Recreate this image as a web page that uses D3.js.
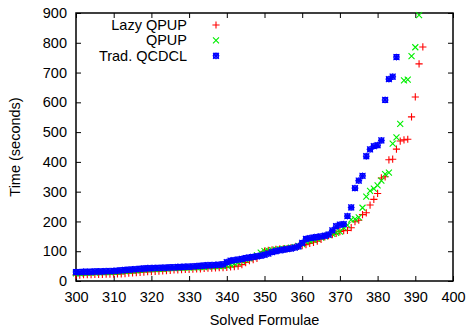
<!DOCTYPE html>
<html>
<head>
<meta charset="utf-8">
<script src="https://cdn.jsdelivr.net/npm/d3@7"></script>
<style>
    body { margin: 0; background: #fff; }
    text { font-family: "Liberation Sans", Arial, sans-serif; font-size: 14.5px; fill: #000; }
    .axis path { display: none; }
    .axis line { stroke: #000; stroke-width: 1; }
</style>
</head>
<body>
<svg id="chart" width="470" height="327"></svg>
<script>
// solved formulae (x) starts at 300 for every series
const xStart = 300;
const xTicks = [300, 310, 320, 330, 340, 350, 360, 370, 380, 390, 400];
const yTicks = [0, 100, 200, 300, 400, 500, 600, 700, 800, 900];
const seriesNames = ['Lazy QPUP', 'QPUP', 'Trad. QCDCL'];

// time (seconds) per solved formula
const lazyQpup = [
    20, 20, 21, 21, 21, 22, 22, 22, 23, 23,
    23, 24, 24, 25, 26, 27, 28, 29, 30, 31,
    31, 32, 33, 34, 35, 36, 37, 37, 38, 39,
    39, 40, 41, 41, 42, 43, 43, 44, 45, 45,
    46, 47, 48, 50, 55, 62, 68, 72, 76, 88,
    100, 103, 105, 106, 107, 108, 109, 111, 113, 116,
    119, 122, 126, 130, 134, 140, 148, 152, 156, 160,
    166, 169, 170, 179, 199, 204, 223, 229, 255, 274,
    294, 346, 350, 407, 409, 443, 470, 474, 476, 551, 618, 729, 786
];
const qpup = [
    26, 26, 27, 27, 28, 28, 29, 29, 30, 30,
    31, 31, 32, 33, 34, 35, 36, 37, 38, 39,
    40, 40, 41, 41, 42, 43, 43, 44, 44, 45,
    45, 46, 46, 47, 47, 48, 49, 49, 50, 51,
    52, 54, 58, 63, 68, 72, 76, 80, 86, 95,
    100, 102, 104, 105, 107, 108, 110, 112, 114, 118,
    124, 132, 135, 138, 142, 146, 150, 154, 158, 162,
    166, 179, 188, 206, 208, 214, 246, 283, 303, 310,
    321, 337, 359, 364, 461, 482, 528, 674, 676, 755, 785, 893
];
const tradQcdcl = [
    30, 30, 31, 31, 31, 32, 32, 32, 33, 33,
    34, 35, 36, 37, 38, 39, 40, 41, 42, 43,
    43, 44, 44, 45, 45, 46, 46, 47, 47, 48,
    48, 49, 50, 51, 52, 53, 53, 54, 55, 56,
    63, 68, 70, 72, 74, 77, 79, 81, 83, 85,
    88, 92, 97, 100, 103, 105, 107, 109, 112, 116,
    128, 141, 144, 146, 148, 150, 152, 156, 170, 184,
    189, 191, 218, 247, 312, 337, 353, 419, 442, 453,
    456, 472, 608, 678, 686, 752
];

const margin = { top: 13, right: 17, bottom: 46, left: 76 };
const svg = d3.select('#chart');
const width = +svg.attr('width') - margin.left - margin.right;
const height = +svg.attr('height') - margin.top - margin.bottom;

const x = d3.scaleLinear().domain([300, 400]).range([0, width]);
const y = d3.scaleLinear().domain([0, 900]).range([height, 0]);

const g = svg.append('g')
    .attr('transform', `translate(${margin.left}, ${margin.top})`);

// axes, ticks point inward like gnuplot, mirrored on top/right
g.append('g').attr('class', 'axis')
    .attr('transform', `translate(0, ${height})`)
    .call(d3.axisBottom(x).tickValues(xTicks).tickSizeInner(-5).tickSizeOuter(0).tickPadding(11));
g.append('g').attr('class', 'axis')
    .call(d3.axisTop(x).tickValues(xTicks).tickSizeInner(-5).tickSizeOuter(0).tickFormat(''));
g.append('g').attr('class', 'axis')
    .call(d3.axisLeft(y).tickValues(yTicks).tickSizeInner(-5).tickSizeOuter(0).tickPadding(9));
g.append('g').attr('class', 'axis')
    .attr('transform', `translate(${width}, 0)`)
    .call(d3.axisRight(y).tickValues(yTicks).tickSizeInner(-5).tickSizeOuter(0).tickFormat(''));

g.selectAll('.axis text').style('font-size', '14.5px').style('font-family', '"Liberation Sans", Arial, sans-serif');

g.append('rect')
    .attr('width', width)
    .attr('height', height)
    .attr('fill', 'none')
    .attr('stroke', '#000')
    .attr('stroke-width', 1.5);

// point shapes
const r = 3.2;
function plusPath(s) { return `M${-s},0H${s}M0,${-s}V${s}`; }
function crossPath(s) { return `M${-s},${-s}L${s},${s}M${-s},${s}L${s},${-s}`; }

const series = [
    { name: seriesNames[0], values: lazyQpup, color: '#ff0000', path: plusPath(r + 0.4) },
    { name: seriesNames[1], values: qpup, color: '#00ee00', path: crossPath(r - 0.2) },
    { name: seriesNames[2], values: tradQcdcl, color: '#0000ff', path: plusPath(r + 0.2) + crossPath(r - 0.2) + `M${-r + 0.8},${-r + 0.8}h${2 * r - 1.6}v${2 * r - 1.6}h${-2 * r + 1.6}Z` }
];

series.forEach(s => {
    g.append('g')
        .selectAll('path')
        .data(s.values)
        .enter()
        .append('path')
        .attr('transform', (d, i) => `translate(${x(xStart + i)}, ${y(d)})`)
        .attr('d', s.path)
        .attr('fill', 'none')
        .attr('stroke', s.color)
        .attr('stroke-width', 1.1);
});

// legend
const legend = svg.append('g');
series.forEach((s, i) => {
    const ly = 25 + i * 15.4;
    legend.append('text')
        .attr('x', 187)
        .attr('y', ly)
        .attr('dy', '0.35em')
        .attr('text-anchor', 'end')
        .text(s.name);
    legend.append('path')
        .attr('transform', `translate(216, ${ly})`)
        .attr('d', s.path)
        .attr('fill', 'none')
        .attr('stroke', s.color)
        .attr('stroke-width', 1.1);
});

// axis titles
svg.append('text')
    .attr('x', margin.left + width / 2)
    .attr('y', 320)
    .attr('dy', '0.35em')
    .attr('text-anchor', 'middle')
    .text('Solved Formulae');

svg.append('text')
    .attr('transform', `translate(15, ${margin.top + height / 2}) rotate(-90)`)
    .attr('dy', '0.35em')
    .attr('text-anchor', 'middle')
    .text('Time (seconds)');
</script>
</body>
</html>
